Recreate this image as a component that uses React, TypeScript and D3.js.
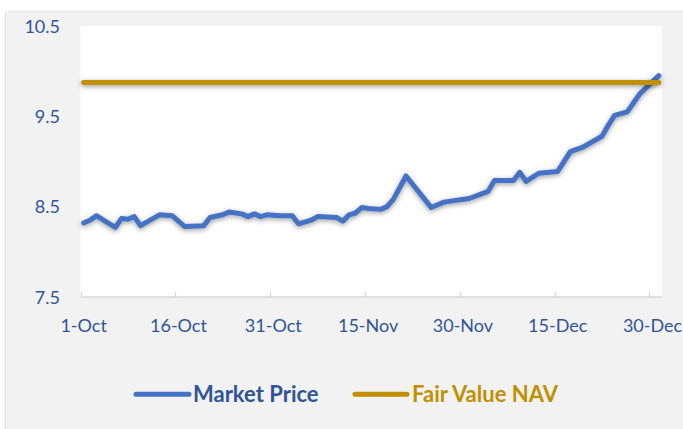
import React from "react";
import * as d3 from "d3";

const priceDates = [
  "2018-10-01", "2018-10-02", "2018-10-03", "2018-10-06", "2018-10-07", "2018-10-08", "2018-10-09",
  "2018-10-10", "2018-10-13", "2018-10-15", "2018-10-17", "2018-10-20", "2018-10-21", "2018-10-23",
  "2018-10-24", "2018-10-26", "2018-10-27", "2018-10-28", "2018-10-29", "2018-10-30", "2018-11-01",
  "2018-11-03", "2018-11-04", "2018-11-06", "2018-11-07", "2018-11-10", "2018-11-11", "2018-11-12",
  "2018-11-13", "2018-11-14", "2018-11-15", "2018-11-17", "2018-11-18", "2018-11-19", "2018-11-21",
  "2018-11-25", "2018-11-27", "2018-12-01", "2018-12-04", "2018-12-05", "2018-12-08", "2018-12-09",
  "2018-12-10", "2018-12-12", "2018-12-15", "2018-12-17", "2018-12-19", "2018-12-22", "2018-12-23",
  "2018-12-24", "2018-12-26", "2018-12-28", "2018-12-31",
];
const marketPrice = [
  8.32, 8.35, 8.4, 8.27, 8.37, 8.36, 8.39,
  8.29, 8.41, 8.4, 8.28, 8.29, 8.38, 8.41,
  8.44, 8.42, 8.39, 8.42, 8.39, 8.41, 8.4,
  8.4, 8.31, 8.35, 8.39, 8.38, 8.34, 8.41,
  8.43, 8.49, 8.48, 8.47, 8.5, 8.58, 8.84,
  8.49, 8.55, 8.59, 8.67, 8.79, 8.79, 8.88,
  8.78, 8.87, 8.89, 9.11, 9.16, 9.28, 9.4,
  9.51, 9.55, 9.75, 9.95,
];
const navDates = ["2018-10-01", "2018-12-31"];
const fairValueNav = [9.875, 9.875];
const xTickDates = ["2018-10-01", "2018-10-16", "2018-10-31", "2018-11-15", "2018-11-30", "2018-12-15", "2018-12-30"];
const yTicks = [7.5, 8.5, 9.5, 10.5];
const seriesNames = ["Market Price", "Fair Value NAV"];

const parse = d3.timeParse("%Y-%m-%d");
const fmt = d3.timeFormat("%-d-%b");

const W = 683;
const H = 429;
const plot = { left: 80.5, right: 662, top: 26, bottom: 297 };

const BLUE = "#4472C4";
const GOLD = "#BF9000";
const TEXT = "#2F5597";
const FONT = "Lato, 'Open Sans', sans-serif";

export default function App() {
  const x = d3
    .scaleTime()
    .domain([parse("2018-10-01")!, parse("2019-01-01")!])
    .range([plot.left, plot.right]);
  const y = d3.scaleLinear().domain([7.5, 10.5]).range([plot.bottom, plot.top]);
  const mid = (s: string) => d3.timeHour.offset(parse(s)!, 12);

  const line = d3
    .line<[Date, number]>()
    .x((d) => x(d[0]))
    .y((d) => y(d[1]));

  const priceData: [Date, number][] = priceDates.map((d, i) => [mid(d), marketPrice[i]]);
  const navData: [Date, number][] = navDates.map((d, i) => [mid(d), fairValueNav[i]]);

  return (
    <svg
      width={W}
      height={H}
      style={{ position: "absolute", left: 0, top: 0, display: "block" }}
      fontFamily={FONT}
    >
      <defs>
        <filter id="shadow" filterUnits="userSpaceOnUse" x={0} y={0} width={W} height={H}>
          <feDropShadow dx="0" dy="1.5" stdDeviation="2.5" floodColor="#000" floodOpacity="0.4" />
        </filter>
        <filter id="panelShadow" filterUnits="userSpaceOnUse" x={0} y={0} width={W} height={H}>
          <feDropShadow dx="0" dy="0" stdDeviation="1.5" floodColor="#000" floodOpacity="0.25" />
        </filter>
      </defs>
      <rect x={0} y={0} width={W} height={H} fill="#ffffff" />
      <rect x={6} y={12} width={W} height={H} fill="#F2F2F2" filter="url(#panelShadow)" />
      <rect
        x={plot.left}
        y={plot.top}
        width={plot.right - plot.left}
        height={plot.bottom - plot.top}
        fill="#ffffff"
      />
      {/* x axis */}
      <line x1={plot.left} x2={plot.right} y1={plot.bottom} y2={plot.bottom} stroke="#D9D9D9" strokeWidth={1.5} />
      {xTickDates.map((d) => {
        const tx = Math.round(x(parse(d)!)) + 0.5;
        return (
          <g key={d}>
            <line x1={tx} x2={tx} y1={plot.bottom} y2={plot.bottom - 5} stroke="#D9D9D9" strokeWidth={1.3} />
            <text x={x(mid(d))} y={331.5} textAnchor="middle" fontSize={18} fill={TEXT}>
              {fmt(parse(d)!)}
            </text>
          </g>
        );
      })}
      {/* y labels */}
      {yTicks.map((t) => (
        <text key={t} x={60} y={y(t) + 6.5} textAnchor="end" fontSize={18} fill={TEXT}>
          {t.toFixed(1)}
        </text>
      ))}
      {/* series */}
      <path
        d={line(priceData) || ""}
        fill="none"
        stroke={BLUE}
        strokeWidth={5}
        strokeLinecap="round"
        strokeLinejoin="round"
        filter="url(#shadow)"
      />
      <path
        d={line(navData) || ""}
        fill="none"
        stroke={GOLD}
        strokeWidth={5}
        strokeLinecap="round"
        strokeLinejoin="round"
        filter="url(#shadow)"
      />
      {/* legend */}
      <line x1={136} x2={189} y1={394.3} y2={394.3} stroke={BLUE} strokeWidth={5} strokeLinecap="round" />
      <text x={193} y={402.3} fontSize={22} fontWeight="bold" fill={TEXT}>
        {seriesNames[0]}
      </text>
      <line x1={355} x2={407} y1={394.3} y2={394.3} stroke={GOLD} strokeWidth={5} strokeLinecap="round" />
      <text x={412} y={402.3} fontSize={22} fontWeight="bold" fill={GOLD}>
        {seriesNames[1]}
      </text>
    </svg>
  );
}
